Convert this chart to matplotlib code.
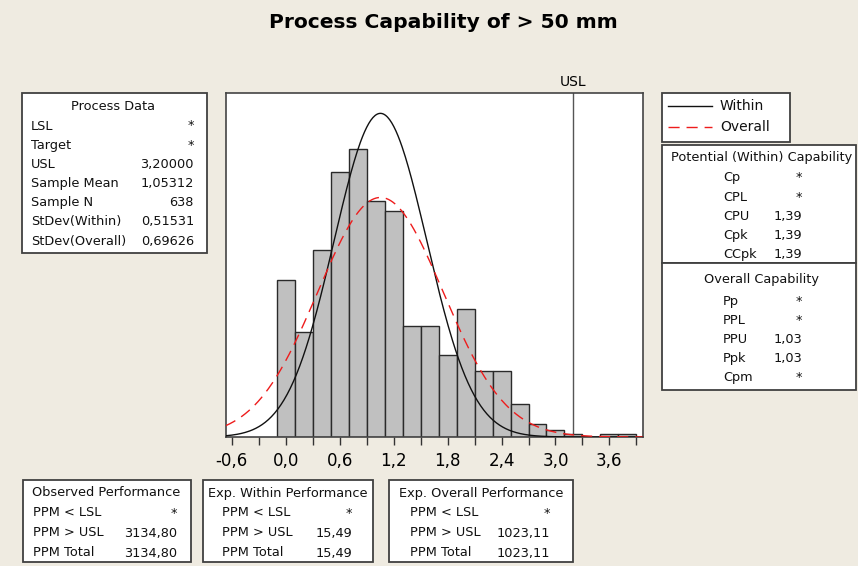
import numpy as np
import matplotlib
matplotlib.use('Agg')
import matplotlib.pyplot as plt
from matplotlib.patches import Rectangle

# histogram data (bin centres, counts)
bin_centers = [0.0, 0.2, 0.4, 0.6, 0.8, 1.0, 1.2, 1.4, 1.6, 1.8,
               2.0, 2.2, 2.4, 2.6, 2.8, 3.0, 3.2, 3.4, 3.6, 3.8]
counts = [48, 32, 57, 81, 88, 72, 69, 34, 34, 25,
          39, 20, 20, 10, 4, 2, 1, 0, 1, 1]
bin_width = 0.2

usl = 3.2
mean = 1.05312
sd_within = 0.51531
sd_overall = 0.69626
n = 638

tick_vals = [-0.6, 0.0, 0.6, 1.2, 1.8, 2.4, 3.0, 3.6]
tick_labels = ['-0,6', '0,0', '0,6', '1,2', '1,8', '2,4', '3,0', '3,6']

process_labels = ['LSL', 'Target', 'USL', 'Sample Mean', 'Sample N',
                  'StDev(Within)', 'StDev(Overall)']
process_values = ['*', '*', '3,20000', '1,05312', '638', '0,51531', '0,69626']

within_labels = ['Cp', 'CPL', 'CPU', 'Cpk', 'CCpk']
within_values = ['*', '*', '1,39', '1,39', '1,39']
overall_labels = ['Pp', 'PPL', 'PPU', 'Ppk', 'Cpm']
overall_values = ['*', '*', '1,03', '1,03', '*']

ppm_labels = ['PPM < LSL', 'PPM > USL', 'PPM Total']
observed_ppm = ['*', '3134,80', '3134,80']
within_ppm = ['*', '15,49', '15,49']
overall_ppm = ['*', '1023,11', '1023,11']

W, H = 858, 566
bg = '#efebe1'
fig = plt.figure(figsize=(W / 100, H / 100), dpi=100, facecolor=bg)
plt.rcParams['font.family'] = 'DejaVu Sans'
fs = 9.3
dash = (0, (8, 5))


def fx(x):
    return x / W


def fy(y):
    return 1 - y / H


def box(x0, y0, x1, y1):
    fig.add_artist(Rectangle((fx(x0), fy(y1)), fx(x1) - fx(x0), fy(y0) - fy(y1),
                             transform=fig.transFigure, facecolor='white',
                             edgecolor='#404040', lw=1.3))


def txt(x, y, s, ha='left', size=fs):
    fig.text(fx(x), fy(y), s, ha=ha, va='center', fontsize=size, color='#111111')


# main plot
ax = fig.add_axes([fx(225.5), fy(437), fx(642.7) - fx(225.5), fy(93) - fy(437)])
ax.bar(bin_centers, counts, width=bin_width, color='#c0c0c0',
       edgecolor='#2a2a2a', lw=1.0, zorder=2)

xlo, xhi = -0.67, 3.97
xs = np.linspace(xlo, xhi, 400)
scale = n * bin_width
pdf_w = scale / (sd_within * np.sqrt(2 * np.pi)) * np.exp(-0.5 * ((xs - mean) / sd_within) ** 2)
pdf_o = scale / (sd_overall * np.sqrt(2 * np.pi)) * np.exp(-0.5 * ((xs - mean) / sd_overall) ** 2)
ax.plot(xs, pdf_w, color='#111111', lw=1.0, zorder=3)
ax.plot(xs, pdf_o, color='#ee1c1c', lw=1.0, ls=dash, zorder=3)
ax.axvline(usl, color='#555555', lw=1.0, zorder=1)
ax.text(usl, 1.012, 'USL', transform=ax.get_xaxis_transform(), ha='center',
        va='bottom', fontsize=10)

ax.set_xlim(xlo, xhi)
ax.set_ylim(0, 105)
ax.set_xticks(tick_vals)
ax.set_xticklabels(tick_labels, fontsize=12)
ax.set_xticks(np.arange(-0.6, 3.91, 0.3), minor=True)
ax.tick_params(axis='x', which='both', length=6, width=1, color='#333333', pad=5)
ax.set_yticks([])
for sp in ax.spines.values():
    sp.set_color('#444444')
    sp.set_linewidth(1.2)

fig.text(fx(443), fy(22), 'Process Capability of > 50 mm', ha='center', va='center',
         fontsize=14.6, fontweight='bold')

# process data
box(21.5, 93, 207, 253)
txt(113, 106, 'Process Data', ha='center')
for i, (lab, val) in enumerate(zip(process_labels, process_values)):
    y = 126 + i * 19.2
    txt(31, y, lab)
    txt(194, y, val, ha='right')

# legend
box(662, 93, 790, 142)
fig.add_artist(plt.Line2D([fx(668), fx(712)], [fy(106), fy(106)], color='#111111', lw=1.0))
fig.add_artist(plt.Line2D([fx(668), fx(712)], [fy(127), fy(127)], color='#ee1c1c', lw=1.0,
                          ls=dash))
txt(720, 106, 'Within', size=10)
txt(720, 127, 'Overall', size=10)

# capability
box(662, 145, 856, 263)
box(662, 263, 856, 390)
txt(762, 158, 'Potential (Within) Capability', ha='center')
for i, (lab, val) in enumerate(zip(within_labels, within_values)):
    y = 178 + i * 19.2
    txt(723, y, lab)
    txt(802, y, val, ha='right')
txt(762, 279, 'Overall Capability', ha='center')
for i, (lab, val) in enumerate(zip(overall_labels, overall_values)):
    y = 301 + i * 19.2
    txt(723, y, lab)
    txt(802, y, val, ha='right')

# performance boxes
perf = [(22.5, 190.5, 'Observed Performance', observed_ppm, 33, 177),
        (203, 373, 'Exp. Within Performance', within_ppm, 222, 352),
        (389, 573, 'Exp. Overall Performance', overall_ppm, 410, 550)]
for x0, x1, title, vals, lx, rx in perf:
    box(x0, 480, x1, 562)
    txt((x0 + x1) / 2, 493, title, ha='center')
    for i, (lab, val) in enumerate(zip(ppm_labels, vals)):
        y = 513 + i * 20
        txt(lx, y, lab)
        txt(rx, y, val, ha='right')

fig.savefig('out.png', dpi=100, facecolor=bg)
